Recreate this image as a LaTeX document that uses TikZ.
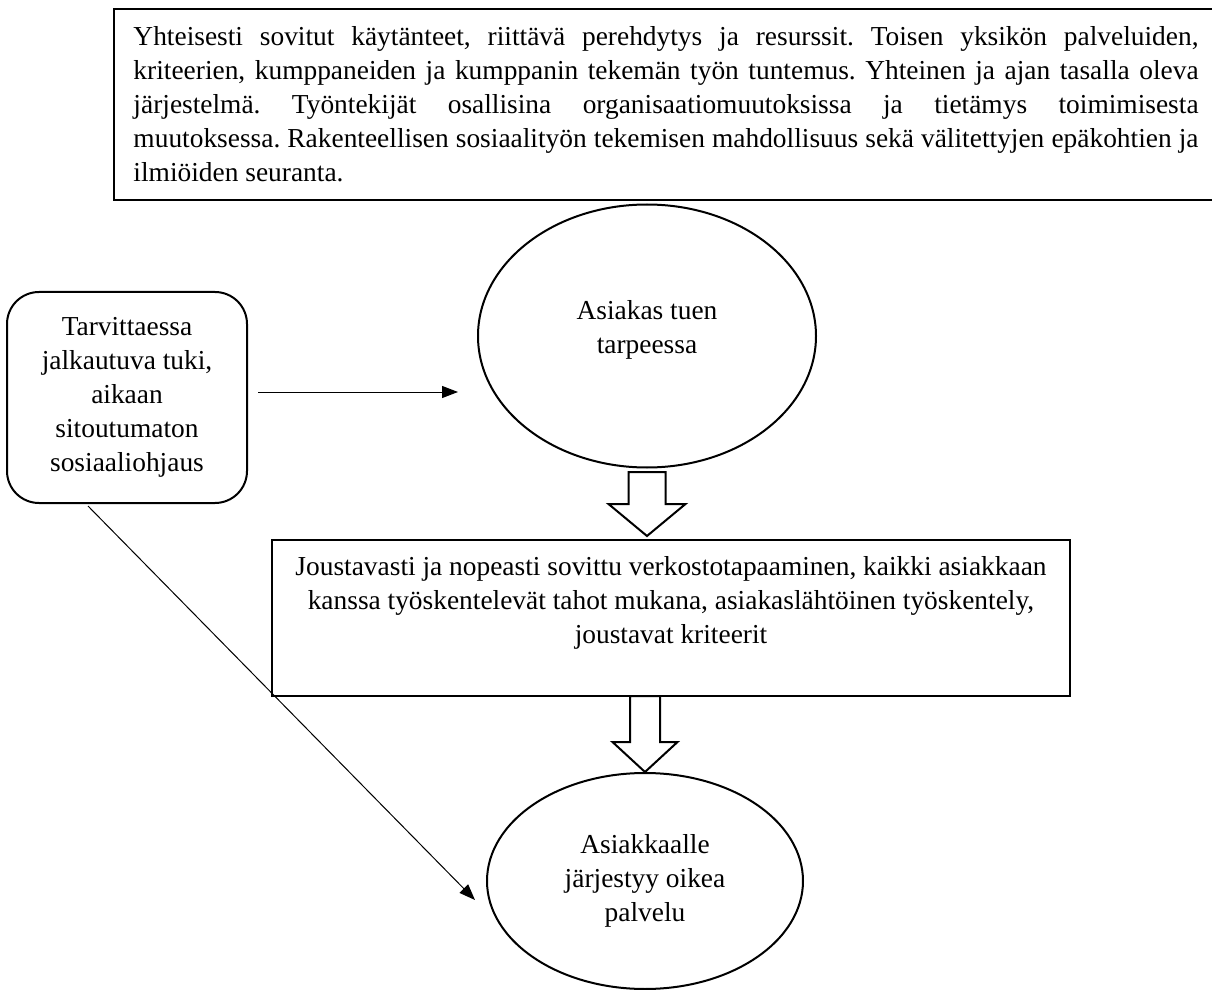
\documentclass[tikz,border=0pt]{standalone}
\usepackage{fontspec}
\setmainfont{Liberation Serif}
\usetikzlibrary{arrows.meta,calc,shapes.geometric}
\frenchspacing

\begin{document}
\begin{tikzpicture}[x=0.5pt,y=-0.5pt,
		every node/.style={font=\fontsize{13.7}{17}\selectfont, inner sep=0pt, outer sep=0pt},
		textbox/.style={draw, line width=1.4pt, align=center},
		roundbox/.style={draw, line width=1pt, rounded corners=16pt, align=center},
		oval/.style={draw, ellipse, line width=1pt, align=center},
		blockarrow/.style={draw, fill=white, line width=1pt, line join=miter},
		thinarrow/.style={line width=0.5pt, -{Triangle[length=8pt,width=6pt]}}]
			\useasboundingbox (0,0) rectangle (1212,990);

			\node [textbox, align=justify, text width=532.5pt, inner xsep=9.75pt, minimum height=95.5pt] (perusta) at (666,104.5)
				{\hyphenpenalty=10000 \tolerance=10000
				Yhteisesti sovitut käytänteet, riittävä perehdytys ja resurssit. Toisen yksikön palveluiden,\linebreak
				kriteerien, kumppaneiden ja kumppanin tekemän työn tuntemus. Yhteinen ja ajan tasalla oleva\linebreak
				järjestelmä. Työntekijät osallisina organisaatiomuutoksissa ja tietämys toimimisesta\linebreak
				muutoksessa. Rakenteellisen sosiaalityön tekemisen mahdollisuus sekä välitettyjen epäkohtien ja\linebreak
				ilmiöiden seuranta.};

			\node [roundbox, minimum width=120pt, minimum height=105.5pt] (tarvittaessa) at (127,397.5)
				{Tarvittaessa\\jalkautuva tuki,\\aikaan\\sitoutumaton\\sosiaaliohjaus};
			\node [oval, minimum width=169pt, minimum height=131.5pt, text depth=9.5pt] (asiakas) at (647,336)
				{Asiakas tuen\\tarpeessa};
			\node [textbox, line width=1.2pt, minimum width=399pt, minimum height=78pt, text depth=18pt] (verkosto) at (671,618)
				{Joustavasti ja nopeasti sovittu verkostotapaaminen, kaikki asiakkaan\\kanssa työskentelevät tahot mukana, asiakaslähtöinen työskentely,\\joustavat kriteerit};
			\node [oval, minimum width=158pt, minimum height=108pt] (palvelu) at (645,881)
				{Asiakkaalle\\järjestyy oikea\\palvelu};

			\draw [thinarrow] ($(tarvittaessa.east)+(11,-5.5)$) -- ($(asiakas.west |- tarvittaessa.east)+(-20,-5.5)$);
			\draw [thinarrow] ($(tarvittaessa.south)+(-39,3)$) -- ($(palvelu.west)+(-12,19)$);

			\draw [blockarrow] ($(asiakas.south |- verkosto.north)+(0,-4)$) -- ++(38.5,-32) -- ++(-20,0) -- ++(0,-32)
				-- ++(-37,0) -- ++(0,32) -- ++(-20,0) -- cycle;
			\draw [blockarrow] ($(palvelu.north)+(0,-1)$) -- ++(32.5,-30) -- ++(-17.5,0) -- ++(0,-46)
				-- ++(-30,0) -- ++(0,46) -- ++(-17.5,0) -- cycle;
\end{tikzpicture}
\end{document}
